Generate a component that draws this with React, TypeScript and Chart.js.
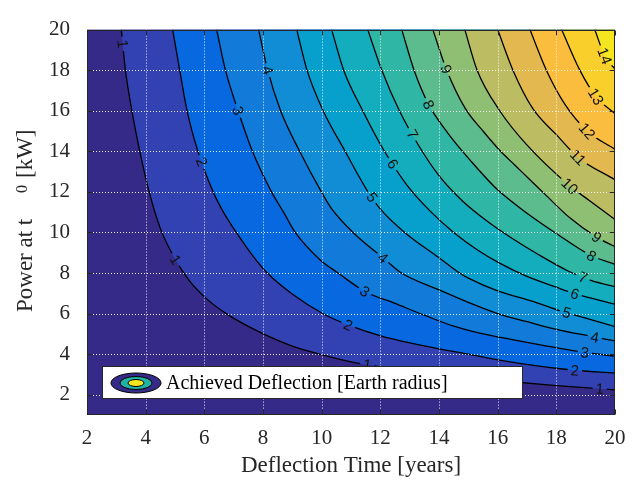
import React, { useEffect, useRef } from 'react';
import { Chart, registerables } from 'chart.js';

Chart.register(...registerables);

// ---------- data ----------
const xTicks = [2, 4, 6, 8, 10, 12, 14, 16, 18, 20];
const yTicks = [2, 4, 6, 8, 10, 12, 14, 16, 18, 20];
const levels = [1, 2, 3, 4, 5, 6, 7, 8, 9, 10, 11, 12, 13, 14];

// contour lines: [deflection time, power] points
const contour1 = [[3.17, 20], [3.31, 18], [3.53, 16], [3.8, 14], [4.12, 12], [4.5, 10.2], [5.0, 8.7], [5.5, 7.6], [6.1, 6.7], [6.8, 5.95], [7.8, 5.15], [9.0, 4.4], [10.0, 3.98], [11.0, 3.62], [12.0, 3.38], [14.0, 3.0], [16.0, 2.7], [18.0, 2.45], [20, 2.24]];
const contour2 = [[4.92, 20], [5.16, 18], [5.41, 16], [5.78, 14], [6.3, 12], [6.65, 11.0], [7.09, 10], [7.66, 8.83], [8.12, 8.04], [9.02, 6.94], [10.05, 5.99], [10.9, 5.44], [12.04, 4.89], [14.02, 4.26], [15.0, 4.0], [16.05, 3.71], [18.46, 3.23], [20, 3.07]];
const contour3 = [[6.42, 20], [6.72, 18], [7.15, 16], [7.64, 14], [8.29, 12], [8.7, 11.0], [9.1, 10], [9.93, 8.67], [10.56, 8.0], [11.47, 7.09], [12.5, 6.5], [13.5, 5.92], [14.5, 5.38], [15.5, 5.0], [16.5, 4.72], [17.5, 4.45], [18.8, 4.12], [20, 3.9]];
const contour4 = [[7.85, 20], [8.16, 18], [8.6, 16], [9.25, 14], [9.99, 12], [10.33, 11.19], [11.07, 10], [12.09, 8.75], [12.72, 8.0], [14.0, 7.17], [15.0, 6.55], [16.0, 6.0], [17.0, 5.6], [18.0, 5.22], [19.14, 4.89], [20, 4.65]];
const contour5 = [[9.15, 20], [9.5, 18], [10.05, 16], [10.8, 14], [11.58, 12], [11.98, 11.19], [12.83, 10.0], [14.0, 8.75], [14.7, 8.0], [15.0, 7.75], [16.0, 7.12], [17.2, 6.6], [18.0, 6.2], [18.7, 5.9], [20, 5.36]];
const contour6 = [[10.34, 20], [10.75, 18], [11.4, 16], [12.1, 14.1], [12.9, 12.35], [13.7, 11.05], [14.5, 10.0], [15.3, 9.15], [16.05, 8.5], [16.9, 7.9], [18.0, 7.3], [18.63, 6.98], [20, 6.46]];
const contour7 = [[11.57, 20], [12.05, 18], [12.65, 16], [13.3, 14.3], [14.0, 12.8], [14.8, 11.55], [15.6, 10.6], [16.5, 9.7], [17.4, 8.9], [18.4, 8.1], [19.2, 7.62], [20, 7.33]];
const contour8 = [[12.73, 20], [13.15, 18], [13.65, 16.3], [14.3, 14.9], [15.1, 13.5], [16.0, 12.1], [17.0, 10.95], [18.0, 9.95], [19.2, 8.85], [20, 8.43]];
const contour9 = [[13.79, 20], [14.25, 18.05], [14.9, 16.1], [15.5, 15.0], [16.1, 14.0], [16.6, 13.3], [17.1, 12.6], [17.6, 11.9], [18.46, 10.72], [19.37, 9.77], [20, 9.3]];
const contour10 = [[14.88, 20], [15.3, 18], [16.07, 16], [16.98, 14.34], [18.46, 12.29], [19.1, 11.6], [20, 10.64]];
const contour11 = [[16.0, 20], [16.52, 18], [17.2, 16.1], [18.0, 14.82], [18.74, 13.7], [20, 12.6]];
const contour12 = [[17.1, 20], [17.66, 18], [18.3, 16.3], [19.05, 15.0], [20, 14.1]];
const contour13 = [[18.18, 20], [18.8, 18], [19.35, 16.7], [20, 15.85]];
const contour14 = [[19.31, 20], [19.65, 18.7], [20, 18.05]];
const contours = [contour1, contour2, contour3, contour4, contour5, contour6, contour7, contour8, contour9, contour10, contour11, contour12, contour13, contour14];

// inline label positions: [level, time, power]
const contourLabels = [
  [1, 3.22, 19.3], [1, 5.02, 8.66], [1, 11.55, 3.48], [1, 19.48, 2.3],
  [2, 5.91, 13.48], [2, 10.9, 5.44], [2, 18.63, 3.2],
  [3, 7.15, 16.0], [3, 11.47, 7.09], [3, 18.97, 4.08],
  [4, 8.17, 18.0], [4, 12.09, 8.75], [4, 19.31, 4.83],
  [5, 11.72, 11.74], [5, 18.35, 6.05],
  [6, 12.43, 13.38], [6, 18.63, 6.98],
  [7, 13.1, 14.85], [7, 18.91, 7.79],
  [8, 13.65, 16.3], [8, 19.2, 8.85],
  [9, 14.25, 18.05], [9, 19.37, 9.77],
  [10, 18.46, 12.29],
  [11, 18.74, 13.7],
  [12, 19.05, 15.0],
  [13, 19.35, 16.7],
  [14, 19.65, 18.7],
];

// band colours (band k lies between level k and k+1)
const bandColors = [
  '#352a87', '#3342b3', '#0868e0', '#127ad9', '#108dd4', '#07a0cd', '#13adbe', '#2fb6a5',
  '#5cbc8d', '#8fbf73', '#bcbc62', '#e2b84f', '#fbbd3d', '#f9cf2c', '#f5e61f',
];

const legendText = 'Achieved Deflection [Earth radius]';
const xTitle = 'Deflection Time [years]';

const SERIF = '"Liberation Serif", "Times New Roman", serif';
const SANS = '"Liberation Sans", Arial, sans-serif';
const TEXT = '#262626';

function labelGeometry(chart: any) {
  const xs = chart.scales.x;
  const ys = chart.scales.y;
  const ctx = chart.ctx;
  ctx.save();
  ctx.font = `15px ${SANS}`;
  const out = contourLabels.map(([lv, x, y]) => {
    const px = xs.getPixelForValue(x);
    const py = ys.getPixelForValue(y);
    const pts = contours[lv - 1].map(([a, b]) => [xs.getPixelForValue(a), ys.getPixelForValue(b)]);
    let best = Infinity;
    let ang = 0;
    for (let i = 0; i < pts.length - 1; i++) {
      const [x1, y1] = pts[i];
      const [x2, y2] = pts[i + 1];
      const dx = x2 - x1, dy = y2 - y1;
      const l2 = dx * dx + dy * dy || 1;
      let t = ((px - x1) * dx + (py - y1) * dy) / l2;
      t = Math.max(0, Math.min(1, t));
      const cx = x1 + t * dx, cy = y1 + t * dy;
      const d = (cx - px) ** 2 + (cy - py) ** 2;
      if (d < best) { best = d; ang = Math.atan2(dy, dx); }
    }
    if (ang > Math.PI / 2) ang -= Math.PI;
    if (ang < -Math.PI / 2) ang += Math.PI;
    const text = String(lv);
    const w = ctx.measureText(text).width;
    return { px, py, ang, text, w };
  });
  ctx.restore();
  return out;
}

const decoPlugin = {
  id: 'contourDeco',
  beforeDatasetsDraw(chart: any) {
    const { ctx, chartArea: a } = chart;
    ctx.save();
    ctx.fillStyle = bandColors[0];
    ctx.fillRect(a.left, a.top, a.right - a.left, a.bottom - a.top);
    ctx.restore();
  },
  beforeDatasetDraw(chart: any, args: any) {
    const ds = chart.data.datasets[args.index];
    if (!ds.isContourLine) return;
    const ctx = chart.ctx;
    const labels = labelGeometry(chart);
    ctx.save();
    ctx.beginPath();
    ctx.rect(0, 0, chart.width, chart.height);
    for (const lb of labels) {
      const hw = lb.w / 2 + 3;
      const hh = 7;
      const c = Math.cos(lb.ang), s = Math.sin(lb.ang);
      const corners = [[-hw, -hh], [hw, -hh], [hw, hh], [-hw, hh]].map(([u, v]) => [lb.px + u * c - v * s, lb.py + u * s + v * c]);
      ctx.moveTo(corners[0][0], corners[0][1]);
      for (let i = 1; i < 4; i++) ctx.lineTo(corners[i][0], corners[i][1]);
      ctx.closePath();
    }
    ctx.clip('evenodd');
  },
  afterDatasetDraw(chart: any, args: any) {
    const ds = chart.data.datasets[args.index];
    if (!ds.isContourLine) return;
    chart.ctx.restore();
  },
  afterDatasetsDraw(chart: any) {
    const { ctx, chartArea: a } = chart;
    const xs = chart.scales.x;
    const ys = chart.scales.y;

    // contour labels
    const labels = labelGeometry(chart);
    ctx.save();
    ctx.font = `15px ${SANS}`;
    ctx.fillStyle = '#111';
    ctx.textAlign = 'center';
    ctx.textBaseline = 'middle';
    for (const lb of labels) {
      ctx.save();
      ctx.translate(lb.px, lb.py);
      ctx.rotate(lb.ang);
      ctx.fillText(lb.text, 0, 1);
      ctx.restore();
    }
    ctx.restore();

    // dotted white grid
    ctx.save();
    ctx.strokeStyle = 'rgba(255,255,255,0.9)';
    ctx.lineWidth = 1;
    ctx.setLineDash([1, 2]);
    for (const v of xTicks) {
      const p = Math.round(xs.getPixelForValue(v)) + 0.5;
      if (p <= a.left + 1 || p >= a.right - 1) continue;
      ctx.beginPath();
      ctx.moveTo(p, a.top);
      ctx.lineTo(p, a.bottom);
      ctx.stroke();
    }
    for (const v of yTicks) {
      const p = Math.round(ys.getPixelForValue(v)) + 0.5;
      if (p <= a.top + 1 || p >= a.bottom - 1) continue;
      ctx.beginPath();
      ctx.moveTo(a.left, p);
      ctx.lineTo(a.right, p);
      ctx.stroke();
    }
    ctx.restore();

    // frame and inward ticks
    ctx.save();
    ctx.strokeStyle = TEXT;
    ctx.lineWidth = 1;
    const L = Math.round(a.left) + 0.5, R = Math.round(a.right) - 0.5;
    const T = Math.round(a.top) + 0.5, B = Math.round(a.bottom) - 0.5;
    ctx.strokeRect(L, T, R - L, B - T);
    ctx.beginPath();
    for (const v of xTicks) {
      const p = Math.round(xs.getPixelForValue(v)) + 0.5;
      ctx.moveTo(p, B); ctx.lineTo(p, B - 5);
      ctx.moveTo(p, T); ctx.lineTo(p, T + 5);
    }
    for (const v of yTicks) {
      const p = Math.round(ys.getPixelForValue(v)) + 0.5;
      ctx.moveTo(L, p); ctx.lineTo(L + 5, p);
      ctx.moveTo(R, p); ctx.lineTo(R - 5, p);
    }
    ctx.stroke();
    ctx.restore();

    // legend box
    const lx = a.left + 15.5, ly = a.bottom - 48.5, lw = 420, lh = 32;
    ctx.save();
    ctx.fillStyle = '#ffffff';
    ctx.fillRect(lx, ly, lw, lh);
    ctx.strokeStyle = TEXT;
    ctx.lineWidth = 1;
    ctx.strokeRect(lx, ly, lw, lh);
    const ex = lx + 33.5, ey = ly + 16.5;
    const rings: [number, number, string][] = [[25, 10, bandColors[0]], [16, 6.5, '#23b3a6'], [8, 3.5, '#f5e61f']];
    for (const [rx, ry, col] of rings) {
      ctx.beginPath();
      ctx.ellipse(ex, ey, rx, ry, 0, 0, Math.PI * 2);
      ctx.fillStyle = col;
      ctx.fill();
      ctx.strokeStyle = '#000';
      ctx.stroke();
    }
    ctx.fillStyle = '#000';
    ctx.font = `20px ${SERIF}`;
    ctx.textBaseline = 'middle';
    ctx.textAlign = 'left';
    ctx.fillText(legendText, lx + 63.5, ey + 1);
    ctx.restore();

    // y axis title with subscript
    ctx.save();
    ctx.fillStyle = TEXT;
    ctx.translate(32, 312);
    ctx.rotate(-Math.PI / 2);
    ctx.textBaseline = 'alphabetic';
    ctx.textAlign = 'left';
    ctx.font = `23px ${SERIF}`;
    ctx.fillText('Power at t', 0, 0);
    ctx.font = `16px ${SERIF}`;
    ctx.fillText('0', 119, -5);
    ctx.font = `23px ${SERIF}`;
    ctx.fillText('[kW]', 134, 0);
    ctx.restore();
  },
};

export default function App() {
  const ref = useRef<HTMLCanvasElement | null>(null);
  useEffect(() => {
    if (!ref.current) return;
    const fills = levels.map((lv, i) => ({
      data: contours[i].map(([x, y]) => ({ x, y })),
      fill: 'end',
      backgroundColor: bandColors[lv],
      borderWidth: 0,
      borderColor: 'rgba(0,0,0,0)',
      pointRadius: 0,
      cubicInterpolationMode: 'monotone',
      order: 100 - lv,
    }));
    const lines = levels.map((lv, i) => ({
      data: contours[i].map(([x, y]) => ({ x, y })),
      fill: false,
      borderColor: '#000',
      borderWidth: 1.3,
      pointRadius: 0,
      cubicInterpolationMode: 'monotone',
      order: 1,
      isContourLine: true,
    }));
    const chart = new Chart(ref.current, {
      type: 'line',
      data: { datasets: [...fills, ...lines] as any },
      options: {
        responsive: false,
        animation: false,
        devicePixelRatio: 1,
        layout: { padding: { left: 0, right: 25, top: 14, bottom: 0 } },
        plugins: { legend: { display: false }, tooltip: { enabled: false } },
        scales: {
          x: {
            type: 'linear',
            min: 2,
            max: 20,
            afterBuildTicks: (s: any) => { s.ticks = xTicks.map((v) => ({ value: v })); },
            afterFit: (s: any) => { s.height = 68; },
            grid: { display: false, drawTicks: false },
            border: { display: false },
            ticks: { font: { family: SERIF, size: 21 }, color: TEXT, padding: 11, maxRotation: 0, autoSkip: false },
            title: { display: true, text: xTitle, font: { family: SERIF, size: 23 }, color: TEXT, padding: { top: 0, bottom: 3 } },
          },
          y: {
            type: 'linear',
            min: 1,
            max: 20,
            afterBuildTicks: (s: any) => { s.ticks = yTicks.map((v) => ({ value: v })); },
            afterFit: (s: any) => { s.width = 87; },
            grid: { display: false, drawTicks: false },
            border: { display: false },
            ticks: { font: { family: SERIF, size: 21 }, color: TEXT, padding: 17, autoSkip: false },
          },
        },
      } as any,
      plugins: [decoPlugin as any],
    });
    return () => chart.destroy();
  }, []);
  return (
    <div style={{ position: 'fixed', left: 0, top: 0, width: 640, height: 483, background: '#fff' }}>
      <canvas ref={ref} width={640} height={483} />
    </div>
  );
}
